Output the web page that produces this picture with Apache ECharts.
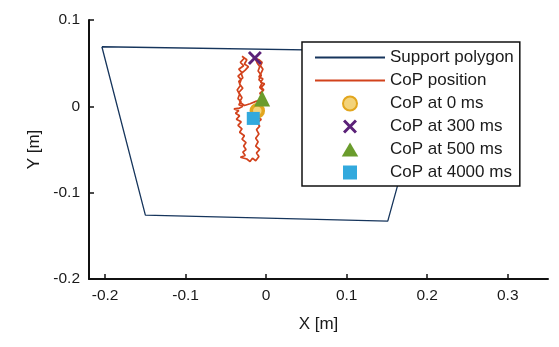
<!DOCTYPE html>
<html><head><meta charset="utf-8">
<script src="https://cdn.jsdelivr.net/npm/echarts@6/dist/echarts.min.js"></script>
<style>html,body{margin:0;padding:0;background:#fff}#c{width:559px;height:347px}</style>
</head><body><div id="c"></div>
<script>
const xTicks = [-0.2, -0.1, 0, 0.1, 0.2, 0.3];
const yTicks = [-0.2, -0.1, 0, 0.1];
const polyX = [-0.204, 0.209, 0.151, -0.150, -0.204];
const polyY = [0.069, 0.063, -0.133, -0.126, 0.069];
const copX = [-0.011,-0.008,-0.006,-0.002,-0.006,-0.004,-0.008,-0.003,-0.006,-0.002,-0.007,-0.004,-0.009,-0.006,-0.004,-0.007,-0.005,-0.009,-0.014,
  -0.011,-0.008,-0.010,-0.006,-0.009,-0.005,-0.008,-0.004,-0.007,-0.005,
  -0.012,-0.020,-0.027,-0.033,-0.030,-0.034,-0.029,-0.033,-0.031,-0.035,-0.030,-0.034,-0.028,-0.032,-0.027,-0.030,-0.024,-0.027,-0.022,
  -0.026,-0.031,-0.029,-0.034,-0.032,-0.036,-0.033,-0.035,-0.031,-0.034,-0.029,-0.033,-0.040,-0.034,-0.038,-0.033,-0.037,-0.031,-0.035,-0.030,-0.033,-0.027,-0.030,-0.025,-0.028,-0.025,-0.029,-0.026,-0.032,-0.024,-0.020,-0.017,-0.013,-0.009,-0.012,-0.008,-0.013,-0.010,-0.013,-0.009,-0.012,-0.008,-0.011,-0.006,-0.012,-0.016];
const copY = [-0.005,0.000,0.004,0.002,0.008,0.012,0.015,0.019,0.022,0.026,0.028,0.032,0.034,0.039,0.043,0.047,0.051,0.054,0.056,
  0.050,0.046,0.041,0.036,0.031,0.027,0.022,0.018,0.014,0.009,
  0.006,0.003,0.001,0.005,0.010,0.016,0.021,0.026,0.031,0.035,0.039,0.043,0.047,0.051,0.056,0.058,0.054,0.049,0.046,
  0.042,0.038,0.033,0.029,0.024,0.019,0.014,0.009,0.005,0.002,0.000,-0.002,-0.003,-0.005,-0.008,-0.011,-0.015,-0.018,-0.022,-0.026,-0.030,-0.034,-0.038,-0.042,-0.046,-0.050,-0.053,-0.057,-0.059,-0.061,-0.064,-0.060,-0.063,-0.058,-0.054,-0.050,-0.046,-0.041,-0.037,-0.032,-0.027,-0.023,-0.019,-0.015,-0.013,-0.014];
const cop0 = [-0.011, -0.005];
const cop300 = [-0.014, 0.056];
const cop500 = [-0.005, 0.009];
const cop4000 = [-0.016, -0.014];
const names = ['Support polygon', 'CoP position', 'CoP at 0 ms', 'CoP at 300 ms', 'CoP at 500 ms', 'CoP at 4000 ms'];

const FONT = '"Liberation Sans", Arial, Helvetica, sans-serif';
const xPath = 'path://M0,3 L3,0 L10,7 L17,0 L20,3 L13,10 L20,17 L17,20 L10,13 L3,20 L0,17 L7,10 Z';
const triPath = 'path://M10,0L20,17L0,17Z';
const rectPath = 'path://M0,0H10V10H0Z';
const linePath = 'path://M0,0H70V2H0Z';
const zip = (a, b) => a.map((v, i) => [v, b[i]]);

const chart = echarts.init(document.getElementById('c'));
chart.setOption({
  animation: false,
  backgroundColor: '#fff',
  textStyle: { fontFamily: FONT },
  grid: { left: 89, right: 11, top: 20, bottom: 68 },
  xAxis: {
    type: 'value', min: -0.22, max: 0.35,
    name: 'X [m]', nameLocation: 'middle', nameGap: 37,
    nameTextStyle: { fontSize: 17, color: '#1a1a1a', fontFamily: FONT },
    axisLine: { onZero: false, lineStyle: { color: '#111', width: 2 } },
    axisTick: { inside: true, length: 5, customValues: xTicks, lineStyle: { color: '#111', width: 1.5 } },
    axisLabel: { customValues: xTicks, fontSize: 15.5, color: '#1a1a1a', margin: 9, fontFamily: FONT },
    splitLine: { show: false }
  },
  yAxis: {
    type: 'value', min: -0.2, max: 0.1, interval: 0.1,
    name: 'Y [m]', nameLocation: 'middle', nameGap: 46,
    nameTextStyle: { fontSize: 17, color: '#1a1a1a', fontFamily: FONT },
    axisLine: { onZero: false, lineStyle: { color: '#111', width: 2 } },
    axisTick: { inside: true, length: 5, lineStyle: { color: '#111', width: 1.5 } },
    axisLabel: { fontSize: 15.5, color: '#1a1a1a', margin: 9, fontFamily: FONT },
    splitLine: { show: false }
  },
  legend: {
    orient: 'vertical', left: 302, top: 42,
    padding: [7, 6, 5, 13],
    itemWidth: 70, itemHeight: 14, itemGap: 6, itemTextGap: 8,
    symbolKeepAspect: true,
    backgroundColor: '#fff', borderColor: '#111', borderWidth: 1.5,
    textStyle: { fontSize: 17, color: '#1a1a1a', fontFamily: FONT },
    data: [
      { name: names[0], icon: linePath },
      { name: names[1], icon: linePath },
      { name: names[2], icon: 'circle' },
      { name: names[3], icon: xPath },
      { name: names[4], icon: triPath },
      { name: names[5], icon: rectPath }
    ]
  },
  series: [
    { name: names[0], type: 'line', data: zip(polyX, polyY), symbol: 'none', showSymbol: false,
      lineStyle: { color: '#16355c', width: 1.3 }, itemStyle: { color: '#16355c' }, z: 2 },
    { name: names[1], type: 'line', data: zip(copX, copY), symbol: 'none', showSymbol: false,
      lineStyle: { color: '#d2421c', width: 1.7 }, itemStyle: { color: '#d2421c' }, z: 3 },
    { name: names[2], type: 'scatter', data: [cop0], symbol: 'circle', symbolSize: 12, symbolKeepAspect: true,
      itemStyle: { color: '#f3d37a', borderColor: '#e2a61e', borderWidth: 3.5, opacity: 1 }, z: 5 },
    { name: names[3], type: 'scatter', data: [cop300], symbol: xPath, symbolSize: 14, symbolKeepAspect: true,
      itemStyle: { color: '#5b2178', opacity: 1 }, z: 5 },
    { name: names[4], type: 'scatter', data: [cop500], symbol: 'triangle', symbolSize: 16, symbolKeepAspect: true,
      itemStyle: { color: '#6a9c2c', opacity: 1 }, z: 5 },
    { name: names[5], type: 'scatter', data: [cop4000], symbol: 'rect', symbolSize: 13, symbolKeepAspect: true,
      itemStyle: { color: '#32a9dd', opacity: 1 }, z: 6 }
  ]
});
</script></body></html>
